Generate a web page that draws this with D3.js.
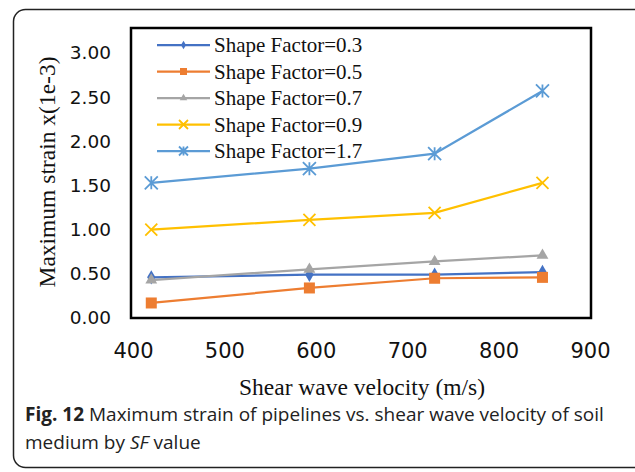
<!DOCTYPE html>
<html lang="en">
<head>
<meta charset="UTF-8" />
<title>Fig. 12</title>
<style>
  body { margin: 0; background: #fff; }
  svg text { fill: #111; }
  .tick-y { font-family: "DejaVu Sans", sans-serif; font-size: 18.5px; }
  .tick-x { font-family: "DejaVu Sans", sans-serif; font-size: 21px; }
  .serif { font-family: "Liberation Serif", "Times New Roman", serif; }
  .cap { font-family: "Open Sans", "Noto Sans", sans-serif; font-size: 19px; fill: #222; }
</style>
</head>
<body>
<script src="https://cdn.jsdelivr.net/npm/d3@7"></script>
<script>
// data
const velocity = [420, 593, 730, 848];
const seriesNames = ["Shape Factor=0.3", "Shape Factor=0.5", "Shape Factor=0.7", "Shape Factor=0.9", "Shape Factor=1.7"];
const sf03 = [0.46, 0.49, 0.49, 0.52];
const sf05 = [0.17, 0.34, 0.45, 0.46];
const sf07 = [0.43, 0.55, 0.64, 0.71];
const sf09 = [1.00, 1.11, 1.19, 1.53];
const sf17 = [1.53, 1.69, 1.86, 2.57];
const xTicks = [400, 500, 600, 700, 800, 900];
const yTicks = [0, 0.5, 1, 1.5, 2, 2.5, 3];

const colors = ["#4472C4", "#ED7D31", "#A5A5A5", "#FFC000", "#5B9BD5"];
const markers = ["diamond", "square", "triangle", "cross", "star"];
const allSeries = [sf03, sf05, sf07, sf09, sf17];

const W = 635, H = 472;
const svg = d3.select("body").append("svg").attr("width", W).attr("height", H);

// outer rounded frame
svg.append("rect")
  .attr("x", 13.5).attr("y", 9.5).attr("width", 640).attr("height", 458)
  .attr("rx", 12).attr("fill", "none").attr("stroke", "#222").attr("stroke-width", 1.5);

const x = d3.scaleLinear().domain([400, 900]).range([133, 590]);
const y = d3.scaleLinear().domain([0, 3]).range([318, 53]);

// plot box
svg.append("rect")
  .attr("x", 131).attr("y", 28).attr("width", 460).attr("height", 290)
  .attr("fill", "none").attr("stroke", "#000").attr("stroke-width", 2.5);

// axes (labels only)
const yAxis = svg.append("g").attr("transform", "translate(111,0)")
  .call(d3.axisLeft(y).tickValues(yTicks).tickFormat(d3.format(".2f")).tickSize(0).tickPadding(0));
yAxis.select(".domain").remove();
yAxis.selectAll("text").attr("class", "tick-y").attr("fill", "#111");

const xAxis = svg.append("g").attr("transform", "translate(0,343)")
  .call(d3.axisBottom(x).tickValues(xTicks).tickFormat(d3.format("d")).tickSize(0).tickPadding(0));
xAxis.select(".domain").remove();
xAxis.selectAll("text").attr("class", "tick-x").attr("fill", "#111");

// axis titles
svg.append("text").attr("class", "serif")
  .attr("x", 362).attr("y", 395).attr("text-anchor", "middle")
  .style("font-size", "23.5px").text("Shear wave velocity (m/s)");
svg.append("text").attr("class", "serif")
  .attr("transform", "translate(55,172) rotate(-90)").attr("text-anchor", "middle")
  .style("font-size", "23.5px").text("Maximum strain x(1e-3)");

function drawMarker(g, type, color, s) {
  if (type === "diamond") {
    g.append("path").attr("d", d3.symbol(d3.symbolDiamond, s * s * 0.6)()).attr("fill", color);
  } else if (type === "square") {
    g.append("rect").attr("x", -s / 2).attr("y", -s / 2).attr("width", s).attr("height", s).attr("fill", color);
  } else if (type === "triangle") {
    g.append("path").attr("d", d3.symbol(d3.symbolTriangle, s * s * 0.5)()).attr("fill", color);
  } else if (type === "cross") {
    const r = s / 2;
    g.append("path").attr("d", `M${-r},${-r}L${r},${r}M${-r},${r}L${r},${-r}`)
      .attr("stroke", color).attr("stroke-width", 1.8).attr("fill", "none");
  } else {
    const r = s / 2;
    g.append("path").attr("d", `M${-r},${-r}L${r},${r}M${-r},${r}L${r},${-r}M0,${-r}L0,${r}`)
      .attr("stroke", color).attr("stroke-width", 1.8).attr("fill", "none");
  }
}

const line = d3.line().x((d, i) => x(velocity[i])).y(d => y(d));
const markerSize = [10, 11, 11, 12, 13];

allSeries.forEach((vals, k) => {
  svg.append("path").datum(vals).attr("d", line)
    .attr("fill", "none").attr("stroke", colors[k]).attr("stroke-width", 2.25);
  vals.forEach((v, i) => {
    const g = svg.append("g").attr("transform", `translate(${x(velocity[i])},${y(v)})`);
    drawMarker(g, markers[k], colors[k], markerSize[k]);
  });
});

// legend
const legend = svg.append("g").attr("transform", "translate(157,45)");
seriesNames.forEach((name, k) => {
  const row = legend.append("g").attr("transform", `translate(0,${k * 26.5})`);
  row.append("line").attr("x1", 0).attr("x2", 53).attr("y1", 0).attr("y2", 0)
    .attr("stroke", colors[k]).attr("stroke-width", 2.25);
  const g = row.append("g").attr("transform", "translate(26.5,0)");
  drawMarker(g, markers[k], colors[k], [6, 7, 7, 9, 9][k]);
  row.append("text").attr("class", "serif").attr("x", 57).attr("y", 7)
    .style("font-size", "21px").text(name);
});

// caption
const cap = svg.append("text").attr("class", "cap").attr("x", 25).attr("y", 421);
cap.append("tspan").style("font-weight", "bold").text("Fig. 12");
cap.append("tspan").text(" Maximum strain of pipelines vs. shear wave velocity of soil");
const cap2 = svg.append("text").attr("class", "cap").attr("x", 25).attr("y", 449);
cap2.append("tspan").text("medium by ");
cap2.append("tspan").style("font-style", "italic").text("SF");
cap2.append("tspan").text(" value");
</script>
</body>
</html>
